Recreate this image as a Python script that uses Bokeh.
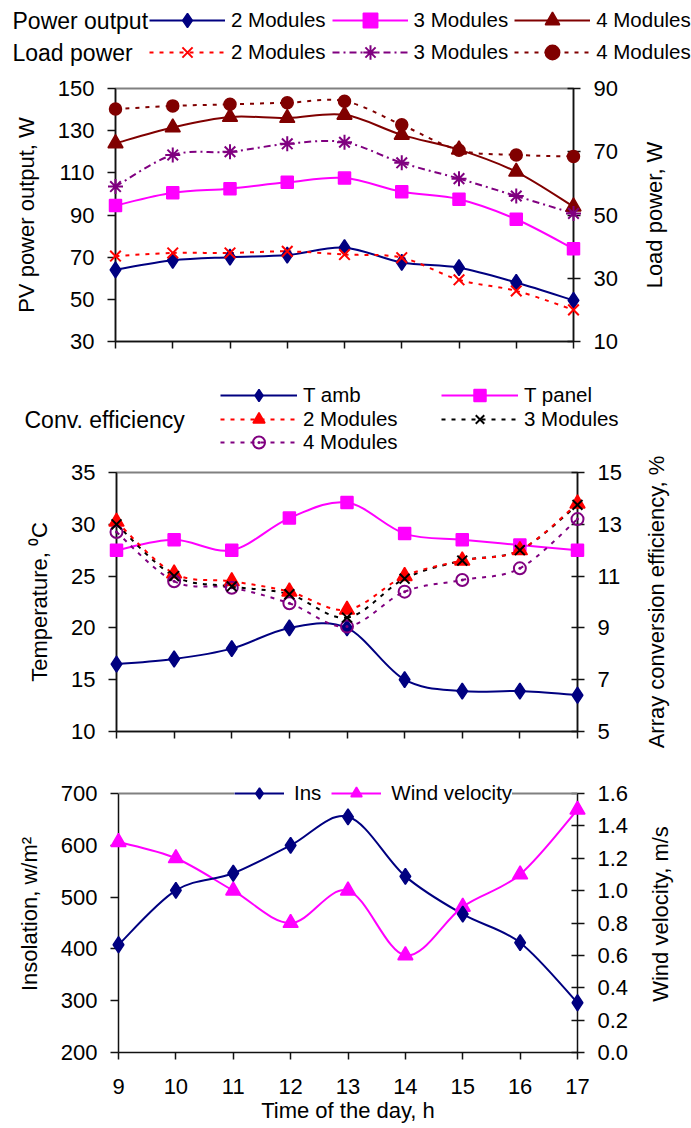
import math
from bokeh.plotting import figure
from bokeh.models import (Range1d, LinearAxis, FixedTicker, Legend, LegendItem,
                          Label, NumeralTickFormatter, Span)
from bokeh.layouts import column, row
from bokeh.embed import file_html
from bokeh.resources import INLINE

# ---------------- data ----------------
hours = [9, 10, 11, 12, 13, 14, 15, 16, 17]

pv_2 = [64, 68.5, 70, 71, 74.5, 67.5, 65, 58, 49.5]
pv_3 = [94.5, 100.5, 102.5, 105.5, 107.5, 101, 97.5, 88, 74]
pv_4 = [124, 131.5, 136.5, 136, 137.5, 128, 121, 110.5, 94]
load_2 = [37, 38, 38, 38.5, 37.5, 36.5, 29.5, 26, 20]
load_3 = [59, 69, 70, 72.5, 73, 66.5, 61.5, 56, 50.5]
load_4 = [83.5, 84.5, 85, 85.5, 86, 78.5, 70.5, 69, 68.5]

t_amb = [16.5, 17, 18, 20, 20, 15, 13.9, 13.9, 13.5]
t_panel = [27.5, 28.5, 27.5, 30.6, 32.1, 29.1, 28.5, 28, 27.5]
eff_2 = [13.1, 11.1, 10.8, 10.4, 9.7, 11.0, 11.6, 12.0, 13.8]
eff_3 = [13.0, 11.0, 10.6, 10.3, 9.4, 10.9, 11.6, 12.0, 13.75]
eff_4 = [12.7, 10.8, 10.55, 9.95, 9.05, 10.4, 10.85, 11.3, 13.2]

insolation = [408, 513, 546, 600, 655, 540, 467, 412, 296]
wind = [1.3, 1.2, 1.0, 0.8, 1.0, 0.6, 0.9, 1.1, 1.5]

FONT = "Liberation Sans"
NAVY = "#000080"
MAGENTA = "#FF00FF"
BROWN = "#800000"
RED = "#FF0000"
PURPLE = "#800080"
NAN = float("nan")


def smooth(p, xs, ys, color, width=2, dash="solid", rng="default"):
    """Excel-like smoothed line: cubic bezier segments built from the data points."""
    n = len(xs)
    x0, y0, x1, y1, cx0, cy0, cx1, cy1 = [], [], [], [], [], [], [], []
    for i in range(n - 1):
        a = max(i - 1, 0)
        d = min(i + 2, n - 1)
        x0.append(xs[i]); y0.append(ys[i])
        x1.append(xs[i + 1]); y1.append(ys[i + 1])
        cx0.append(xs[i] + (xs[i + 1] - xs[a]) / 6.0)
        cy0.append(ys[i] + (ys[i + 1] - ys[a]) / 6.0)
        cx1.append(xs[i + 1] - (xs[d] - xs[i]) / 6.0)
        cy1.append(ys[i + 1] - (ys[d] - ys[i]) / 6.0)
    p.bezier(x0=x0, y0=y0, x1=x1, y1=y1, cx0=cx0, cy0=cy0, cx1=cx1, cy1=cy1,
             line_color=color, line_width=width, line_dash=dash, y_range_name=rng)


def markers(p, xs, ys, marker, color, size, fill=True, lw=1.5, rng="default"):
    return p.scatter(xs, ys, marker=marker, size=size, line_color=color,
                     line_width=lw, fill_color=color if fill else None,
                     y_range_name=rng, level="overlay")


def proxy(p, color, dash, marker, fill=True, lw=1.5):
    """Legend sample renderers (a single NaN point draws nothing)."""
    ln = p.line(x=[NAN], y=[NAN], line_color=color, line_width=2, line_dash=dash)
    mk = p.scatter(x=[NAN], y=[NAN], marker=marker, size=12, line_color=color,
                   line_width=lw, fill_color=color if fill else None)
    return [ln, mk]


def style_axis(ax, tick_in=0, tick_out=8, label_standoff=13, axis_standoff=15):
    ax.major_label_text_font = FONT
    ax.major_label_text_font_size = "22px"
    ax.major_label_text_color = "black"
    ax.axis_label_text_font = FONT
    ax.axis_label_text_font_size = "22px"
    ax.axis_label_text_font_style = "normal"
    ax.axis_label_text_color = "black"
    ax.axis_line_color = "#111111"
    ax.axis_line_width = 1.5
    ax.major_tick_line_color = "#111111"
    ax.major_tick_line_width = 1.5
    ax.minor_tick_line_color = None
    ax.major_tick_in = tick_in
    ax.major_tick_out = tick_out
    ax.major_label_standoff = label_standoff
    ax.axis_label_standoff = axis_standoff


def make_fig(left, fw, right, top, fh, bottom, yr, yr2, yticks, y2ticks,
             ylabel, show_x_labels, y2fmt=None, bounds=None, bounds2=None):
    p = figure(frame_width=fw, frame_height=fh, min_border_left=left,
               min_border_right=right, min_border_top=top,
               min_border_bottom=bottom, x_range=Range1d(9, 17),
               y_range=Range1d(*yr), output_backend="svg",
               toolbar_location=None, background_fill_color="white",
               border_fill_color="white")
    p.extra_y_ranges = {"r": Range1d(*yr2)}
    p.xgrid.visible = False
    p.ygrid.visible = False
    p.outline_line_color = "#808080"
    p.outline_line_width = 2

    xa = p.xaxis[0]
    xa.ticker = FixedTicker(ticks=hours)
    style_axis(xa, tick_in=0, tick_out=7, label_standoff=19, axis_standoff=1)
    if not show_x_labels:
        xa.major_label_overrides = {h: "" for h in hours}
        xa.major_label_standoff = 0

    ya = p.yaxis[0]
    ya.ticker = FixedTicker(ticks=yticks)
    ya.axis_label = ylabel
    style_axis(ya, tick_in=0, tick_out=8, label_standoff=13, axis_standoff=16)

    ra = LinearAxis(y_range_name="r", ticker=FixedTicker(ticks=y2ticks))
    style_axis(ra, tick_in=6, tick_out=7, label_standoff=13, axis_standoff=0)
    if y2fmt:
        ra.formatter = NumeralTickFormatter(format=y2fmt)
    if bounds:
        ya.bounds = bounds
        ra.bounds = bounds2
    p.add_layout(ra, "right")
    return p


def blank(width, height):
    p = figure(width=width, height=height, min_border=0, x_range=Range1d(0, 1),
               y_range=Range1d(0, 1), x_axis_type=None, y_axis_type=None,
               output_backend="svg", toolbar_location=None,
               background_fill_color="white", border_fill_color="white")
    p.outline_line_color = None
    p.xgrid.visible = False
    p.ygrid.visible = False
    return p


def side_label(height, text, left, top=0, bottom=0):
    """Narrow strip carrying a right-hand axis title that reads bottom-to-top."""
    p = figure(width=53, height=height, min_border_left=left, min_border_right=0,
               min_border_top=top, min_border_bottom=bottom,
               x_range=Range1d(0, 1), y_range=Range1d(0, 1), x_axis_type=None,
               output_backend="svg", toolbar_location=None,
               background_fill_color="white", border_fill_color="white")
    p.outline_line_color = None
    p.xgrid.visible = False
    p.ygrid.visible = False
    ax = p.yaxis[0]
    ax.ticker = FixedTicker(ticks=[])
    ax.axis_label = text
    style_axis(ax, tick_in=0, tick_out=0, label_standoff=0, axis_standoff=0)
    ax.axis_line_color = None
    ax.major_tick_line_color = None
    return p


def legend(items, loc, glyph_w, label_w, spacing, standoff=6, bg=None,
           padding=0, gh=36):
    lg = Legend(items=items, location=loc, orientation="horizontal",
                glyph_width=glyph_w, glyph_height=gh, label_width=label_w,
                label_height=gh, label_standoff=standoff, spacing=spacing,
                padding=padding, margin=0, border_line_color=None,
                label_text_font=FONT, label_text_font_size="20.5px",
                label_text_color="black")
    if bg:
        lg.background_fill_color = bg
        lg.background_fill_alpha = 1
    else:
        lg.background_fill_alpha = 0
    return lg


def text_label(p, text, x, y, size="23px"):
    p.add_layout(Label(x=x, y=y, x_units="screen", y_units="screen", text=text,
                       text_font=FONT, text_font_size=size,
                       text_baseline="middle", text_align="left",
                       text_color="black"))


# ---------------- top legend block ----------------
pl1 = blank(691, 70)
it_pv = [LegendItem(label="2 Modules", renderers=proxy(pl1, NAVY, "solid", "diamond")),
         LegendItem(label="3 Modules", renderers=proxy(pl1, MAGENTA, "solid", "square")),
         LegendItem(label="4 Modules", renderers=proxy(pl1, BROWN, "solid", "triangle"))]
it_ld = [LegendItem(label="2 Modules", renderers=proxy(pl1, RED, "4 6", "x", lw=2)),
         LegendItem(label="3 Modules", renderers=proxy(pl1, PURPLE, "7 4 2 4", "asterisk", lw=2)),
         LegendItem(label="4 Modules", renderers=proxy(pl1, BROWN, "4 6", "circle"))]
pl1.add_layout(legend(it_pv, (149, 32), 76, 94, 6), "center")
pl1.add_layout(legend(it_ld, (149, 0), 76, 94, 6), "center")
text_label(pl1, "Power output", 12, 50)
text_label(pl1, "Load power", 12, 18)

# ---------------- figure 1: power ----------------
p1 = make_fig(115, 458, 65, 18, 253, 19, (30, 150), (10, 90),
              [30, 50, 70, 90, 110, 130, 150], [10, 30, 50, 70, 90],
              "PV power output, W", False)

smooth(p1, hours, pv_4, BROWN)
smooth(p1, hours, pv_3, MAGENTA)
smooth(p1, hours, pv_2, NAVY)
smooth(p1, hours, load_4, BROWN, dash="4 6", rng="r")
smooth(p1, hours, load_3, PURPLE, dash="7 4 2 4", rng="r")
smooth(p1, hours, load_2, RED, dash="4 6", rng="r")
markers(p1, hours, pv_4, "triangle", BROWN, 15)
markers(p1, hours, pv_3, "square", MAGENTA, 12)
markers(p1, hours, pv_2, "diamond", NAVY, 16)
markers(p1, hours, load_4, "circle", BROWN, 12, rng="r")
markers(p1, hours, load_3, "asterisk", PURPLE, 15, lw=2, rng="r")
markers(p1, hours, load_2, "x", RED, 15, lw=2, rng="r")

r1 = side_label(290, "Load power, W", 26)

# ---------------- middle legend block ----------------
pl2 = blank(691, 92)
it_a = [LegendItem(label="T amb", renderers=proxy(pl2, NAVY, "solid", "diamond")),
        LegendItem(label="T panel", renderers=proxy(pl2, MAGENTA, "solid", "square"))]
it_b = [LegendItem(label="2 Modules", renderers=proxy(pl2, RED, "4 6", "triangle")),
        LegendItem(label="3 Modules", renderers=proxy(pl2, "black", "4 6", "x", lw=2))]
it_c = [LegendItem(label="4 Modules", renderers=proxy(pl2, PURPLE, "4 6", "circle_dot", fill=False, lw=2))]
pl2.add_layout(legend(it_a, (220, 42), 77, 132, 6, gh=30), "center")
pl2.add_layout(legend(it_b, (220, 18), 77, 132, 6, gh=30), "center")
pl2.add_layout(legend(it_c, (220, -5), 77, 132, 6, gh=30), "center")
text_label(pl2, "Conv. efficiency", 24, 33)

# ---------------- figure 2: temperature / efficiency ----------------
p2 = make_fig(116, 461, 61, 20, 259, 29, (10, 35), (5, 15),
              [10, 15, 20, 25, 30, 35], [5, 7, 9, 11, 13, 15],
              "Temperature, \u2070C", False)

smooth(p2, hours, t_panel, MAGENTA)
smooth(p2, hours, t_amb, NAVY)
smooth(p2, hours, eff_4, PURPLE, dash="4 6", rng="r")
smooth(p2, hours, eff_3, "black", dash="4 6", rng="r")
smooth(p2, hours, eff_2, RED, dash="4 6", rng="r")
markers(p2, hours, t_panel, "square", MAGENTA, 12)
markers(p2, hours, t_amb, "diamond", NAVY, 16)
markers(p2, hours, eff_2, "triangle", RED, 15, rng="r")
markers(p2, hours, eff_4, "circle_dot", PURPLE, 12, fill=False, lw=2, rng="r")
markers(p2, hours, eff_3, "x", "black", 14, lw=2, rng="r")

r2 = side_label(308, "Array conversion efficiency, %", 30, top=8)

# ---------------- figure 3: insolation / wind ----------------
# frame reaches 18 px above the 700 line so the legend can sit on the top border
F3_H, F3_PLOT = 277, 259
ins_lo, ins_hi = 200, 700
wv_lo, wv_hi = 0.0, 1.6
ins_top = ins_lo + (ins_hi - ins_lo) * F3_H / F3_PLOT
wv_top = wv_lo + (wv_hi - wv_lo) * F3_H / F3_PLOT
p3 = make_fig(118, 459, 61, 15, F3_H, 74, (ins_lo, ins_top), (wv_lo, wv_top),
              [200, 300, 400, 500, 600, 700],
              [0, 0.2, 0.4, 0.6, 0.8, 1.0, 1.2, 1.4, 1.6],
              "Insolation, w/m\u00b2", True, y2fmt="0.0",
              bounds=(ins_lo, ins_hi), bounds2=(wv_lo, wv_hi))
p3.outline_line_color = None
p3.xaxis[0].axis_label = "Time of the day, h"
p3.add_layout(Span(location=ins_hi, dimension="width", line_color="#808080",
                   line_width=2))

smooth(p3, hours, wind, MAGENTA, rng="r")
smooth(p3, hours, insolation, NAVY)
markers(p3, hours, wind, "triangle", MAGENTA, 15, rng="r")
markers(p3, hours, insolation, "diamond", NAVY, 16)

it_3 = [LegendItem(label="Ins", renderers=proxy(p3, NAVY, "solid", "diamond")),
        LegendItem(label="Wind velocity", renderers=proxy(p3, MAGENTA, "solid", "triangle"))]
p3.add_layout(legend(it_3, (116, 245), 50, 20, 10, standoff=10, bg="white", gh=28), "center")

r3 = side_label(366, "Wind velocity, m/s", 34, bottom=34)

layout = column(pl1, row(p1, r1, spacing=0), pl2, row(p2, r2, spacing=0),
                row(p3, r3, spacing=0), spacing=0)

with open("out.html", "w") as f:
    f.write(file_html(layout, INLINE))
